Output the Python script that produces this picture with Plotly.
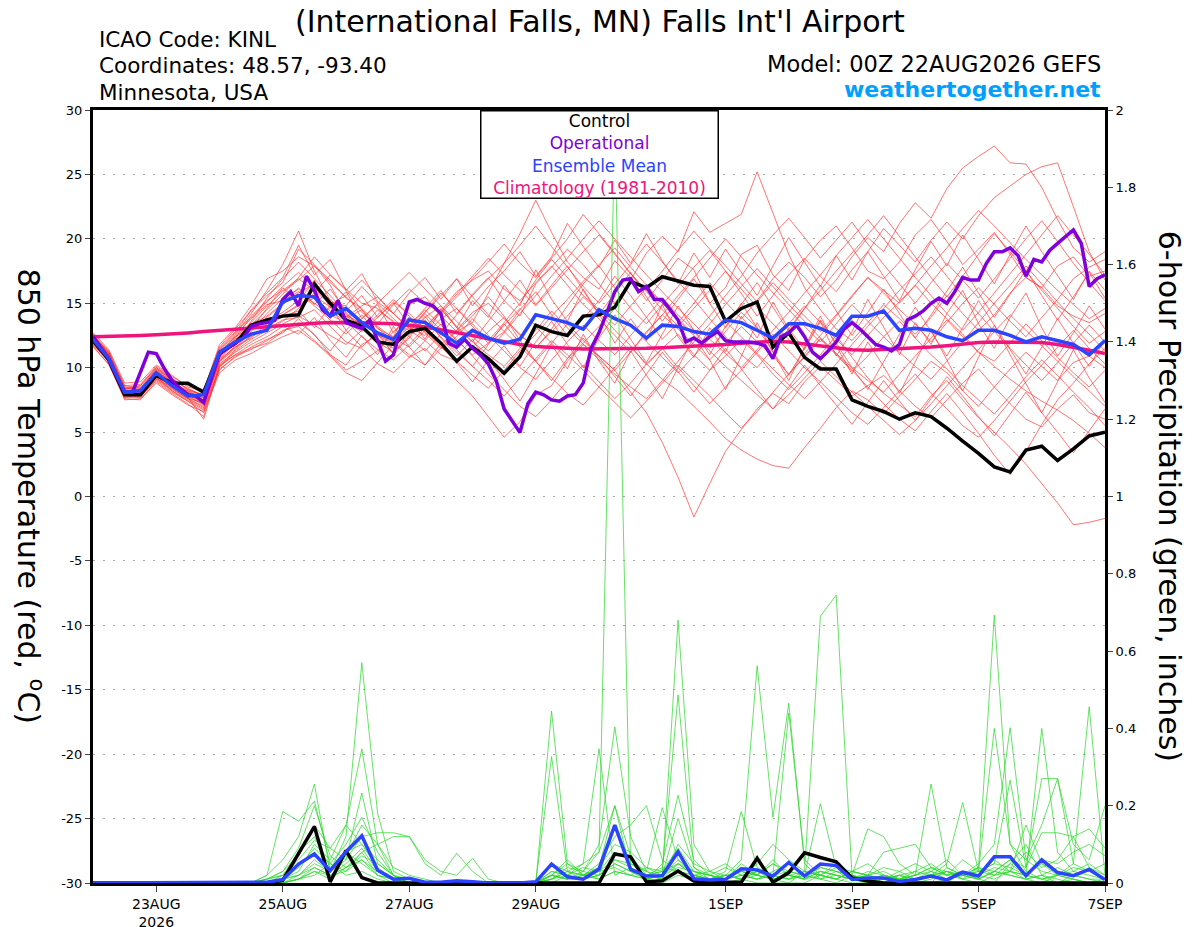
import plotly.graph_objects as go

# time axis in days since 00Z 22AUG2026 (ensemble every 6 h, operational every 3 h)
days_6h = [i / 4 for i in range(65)]
days_3h = [j / 8 for j in range(129)]

tick_days = [1, 3, 5, 7, 10, 12, 14, 16]
tick_text = ['23AUG<br>2026', '25AUG', '27AUG', '29AUG', '1SEP', '3SEP', '5SEP', '7SEP']

# 850 hPa temperature (C)
control_t = [12.1, 10.6, 7.9, 7.9, 9.4, 8.8, 8.8, 8.1, 11.1, 11.9, 13.3, 13.7, 14.0,
             14.1, 16.5, 15.0, 13.7, 13.2, 12.0, 11.8, 12.8, 13.05, 11.9, 10.5, 11.6, 10.7,
             9.56, 10.85, 13.3, 12.8, 12.5, 14.0, 14.1, 14.7, 16.7, 16.2, 17.06, 16.7, 16.4,
             16.3, 13.6, 14.6, 15.1, 11.6, 12.7, 10.8, 9.9, 9.9, 7.5, 7.0, 6.6, 6.0,
             6.5, 6.2, 5.3, 4.3, 3.35, 2.3, 1.9, 3.6, 3.9, 2.8, 3.7, 4.7, 5.0]

mean_t = [12.2, 10.7, 8.1, 8.2, 9.6, 8.6, 7.8, 7.9, 11.2, 12.0, 12.6, 12.9, 15.1,
          15.6, 15.5, 14.0, 14.6, 13.5, 12.7, 12.2, 13.7, 13.5, 12.7, 11.9, 12.9, 12.3,
          11.9, 12.2, 14.1, 13.8, 13.5, 13.0, 14.5, 13.8, 13.3, 12.3, 13.3, 13.2, 12.8,
          12.6, 13.7, 13.5, 12.9, 12.3, 13.4, 13.4, 13.05, 12.5, 14.0, 14.0, 14.4, 12.9,
          13.05, 12.9, 12.4, 12.1, 12.9, 12.9, 12.5, 12.0, 12.4, 12.1, 11.8, 11.0, 12.1]

clim_t = [12.4, 12.42, 12.45, 12.5, 12.55, 12.6, 12.7, 12.8, 12.9, 13.0, 13.1, 13.2, 13.3,
          13.4, 13.45, 13.5, 13.5, 13.5, 13.45, 13.4, 13.3, 13.15, 12.95, 12.75, 12.5, 12.25,
          12.0, 11.8, 11.65, 11.55, 11.5, 11.45, 11.45, 11.45, 11.5, 11.5, 11.55, 11.6, 11.65,
          11.7, 11.8, 11.9, 12.0, 12.05, 12.0, 11.85, 11.7, 11.5, 11.4, 11.35, 11.4, 11.45,
          11.5, 11.6, 11.7, 11.85, 11.95, 12.0, 12.0, 12.0, 11.95, 11.8, 11.6, 11.35, 11.1]

oper_t = [12.4, 11.6, 10.7, 9.4, 8.1, 8.1, 9.7, 11.2, 11.1, 9.95, 9.0, 8.4, 7.9, 7.8, 7.3, 9.3,
          11.1, 11.5, 11.9, 12.3, 13.2, 13.4, 13.5, 13.7, 15.3, 15.9, 14.8, 17.1, 16.0, 14.5, 14.0, 15.2,
          13.5, 13.3, 13.05, 13.7, 12.15, 10.5, 11.0, 13.2, 15.1, 15.3, 15.0, 14.8, 14.2, 11.9, 11.6, 12.2,
          11.5, 11.0, 10.3, 9.0, 6.8, 5.9, 4.96, 7.2, 8.1, 7.9, 7.5, 7.4, 7.8, 7.9, 8.8, 11.5,
          12.7, 14.3, 15.9, 16.8, 16.9, 15.9, 16.3, 15.3, 15.3, 14.5, 13.7, 12.0, 12.3, 11.9, 12.4, 12.8,
          12.1, 12.0, 12.0, 12.0, 11.9, 11.7, 10.7, 12.4, 12.7, 13.3, 12.4, 11.2, 10.7, 11.3, 12.0, 13.0,
          13.5, 13.0, 12.4, 11.8, 11.6, 11.3, 11.8, 13.7, 14.0, 14.4, 15.0, 15.4, 15.0, 15.9, 17.0, 16.8,
          16.8, 18.1, 19.0, 19.0, 19.3, 18.7, 17.1, 18.4, 18.2, 19.1, 19.65, 20.2, 20.7, 19.65, 16.3, 16.9,
          17.2]

temp_members = [
    [12.5, 11.2, 8.3, 8.6, 10.0, 9.2, 8.3, 7.9, 11.3, 12.6, 14.2, 16.0, 18.0,
     20.6, 17.5, 15.2, 13.8, 14.5, 13.0, 12.4, 14.9, 15.5, 14.0, 12.8, 13.5, 15.8,
     18.0, 20.4, 23.0, 20.5, 18.2, 17.0, 16.1, 18.3, 17.0, 15.2, 16.8, 18.5, 17.6,
     15.0, 16.2, 18.8, 19.5, 17.2, 16.0, 18.4, 19.9, 21.0, 19.3, 17.5, 16.9, 18.2,
     20.3, 21.5, 19.8, 18.0, 19.2, 20.5, 18.8, 17.0, 16.2, 17.9, 18.6, 17.1, 17.5],
    [11.9, 10.4, 7.6, 7.5, 8.9, 8.0, 7.2, 6.2, 10.2, 11.0, 11.5, 11.9, 12.8,
     13.5, 12.6, 11.0, 10.2, 11.8, 12.5, 11.9, 10.8, 11.5, 10.2, 9.0, 7.8, 6.2,
     4.6, 5.8, 7.9, 8.6, 10.5, 11.8, 10.9, 9.8, 8.1, 6.5, 4.2, 1.5, -1.6,
     1.0, 3.5, 5.2, 6.8, 8.0, 7.2, 8.9, 10.1, 9.0, 7.8, 8.6, 9.4, 8.2,
     7.0, 6.1, 7.5, 8.8, 9.9, 8.5, 7.2, 6.0, 5.4, 6.8, 7.9, 6.5, 6.0],
    [12.0, 10.9, 8.2, 8.3, 9.8, 8.9, 8.1, 7.4, 10.6, 12.0, 13.5, 14.8, 15.9,
     16.8, 17.9, 16.4, 14.2, 13.1, 12.0, 11.2, 12.3, 13.9, 14.8, 13.1, 12.0, 13.6,
     15.2, 14.0, 16.5, 17.8, 19.2, 18.0, 16.5, 15.0, 16.8, 18.9, 20.2, 19.0, 22.1,
     20.5, 21.2, 21.9, 25.2, 22.0, 18.8, 16.2, 14.5, 13.0, 12.1, 13.5, 14.9, 13.8,
     12.6, 13.9, 15.6, 14.2, 12.9, 14.1, 15.8, 17.0, 16.2, 14.8, 14.0, 13.5, 14.2],
    [12.3, 11.0, 8.1, 7.9, 9.2, 8.4, 7.6, 7.0, 10.5, 11.7, 12.9, 13.9, 14.9,
     15.8, 16.5, 15.0, 13.9, 14.8, 15.5, 14.2, 13.1, 12.5, 13.8, 14.6, 13.2, 11.9,
     12.8, 14.5, 15.9, 14.1, 12.5, 13.8, 15.2, 17.1, 15.6, 13.9, 12.2, 13.5, 15.0,
     16.6, 15.1, 13.8, 15.2, 16.9, 18.2, 17.0, 15.5, 16.8, 18.6, 20.1, 19.0, 21.2,
     22.8, 21.6, 23.9, 25.5, 26.4, 27.2, 25.9, 25.8, 24.0, 21.5, 19.3, 18.2, 19.0],
    [12.6, 11.3, 8.6, 8.4, 9.9, 9.0, 8.0, 7.7, 11.0, 12.2, 13.0, 13.8, 14.1,
     14.9, 15.6, 14.7, 14.0, 13.2, 12.2, 11.5, 12.9, 12.1, 11.0, 10.5, 11.6, 12.8,
     13.9, 12.5, 11.6, 12.8, 14.0, 15.5, 14.3, 12.9, 11.7, 10.2, 11.5, 12.6, 11.0,
     9.8, 10.9, 12.2, 11.0, 9.5, 8.3, 9.6, 11.0, 12.5, 10.8, 9.2, 8.0, 7.1,
     6.2, 7.8, 9.0, 7.5, 6.1, 5.0, 3.8, 2.5, 1.0, -0.5, -2.2, -2.0, -1.7],
    [11.8, 10.6, 7.9, 7.8, 9.3, 8.2, 7.5, 6.8, 10.0, 11.3, 12.2, 12.9, 13.6,
     14.6, 15.8, 17.2, 16.0, 14.5, 13.1, 12.0, 11.0, 10.2, 11.5, 12.9, 14.0, 15.5,
     14.0, 12.1, 10.5, 9.2, 8.0, 7.1, 8.5, 10.0, 11.6, 10.3, 9.1, 8.2, 7.0,
     5.8, 4.5, 3.6, 2.9, 2.4, 2.2, 3.8, 5.3, 6.9, 8.2, 7.5, 6.4, 7.8,
     9.1, 10.5, 9.6, 8.2, 7.0, 8.5, 9.9, 11.2, 10.1, 9.0, 10.4, 10.9, 10.0],
    [12.1, 10.7, 8.4, 8.5, 9.6, 8.8, 8.2, 7.9, 11.5, 12.8, 13.9, 15.1, 16.3,
     17.4, 16.2, 15.1, 14.8, 16.3, 15.0, 13.8, 12.6, 13.1, 14.4, 15.9, 16.8, 17.5,
     16.1, 15.2, 16.6, 17.9, 16.4, 14.9, 13.8, 12.5, 11.2, 12.8, 14.1, 13.0, 11.8,
     10.6, 11.9, 13.2, 12.0, 10.9, 9.5, 10.8, 12.3, 11.1, 9.8, 8.5, 7.2, 6.0,
     5.1, 6.6, 8.0, 6.5, 4.9, 3.2, 1.7, 3.5, 5.6, 7.5, 8.8, 10.3, 11.5],
    [12.4, 11.1, 8.5, 8.2, 9.4, 8.5, 7.9, 7.2, 10.4, 11.5, 12.8, 14.2, 15.4,
     16.1, 15.0, 14.1, 13.5, 12.8, 13.9, 15.1, 14.2, 13.0, 11.8, 12.9, 14.3, 15.0,
     13.8, 12.6, 11.5, 13.0, 14.8, 16.5, 17.9, 16.2, 14.6, 13.4, 14.9, 16.3, 17.8,
     19.1, 17.5, 15.8, 14.0, 15.6, 17.2, 18.5, 17.1, 15.9, 17.6, 19.0, 20.8, 19.5,
     18.2, 19.9, 21.3, 20.0, 21.8, 23.2, 24.1, 25.0, 25.6, 25.9, 22.5, 19.0, 16.8],
    [11.7, 10.2, 7.7, 7.7, 9.0, 8.1, 7.4, 6.5, 9.8, 10.9, 11.4, 12.1, 12.9,
     13.2, 12.1, 11.0, 9.8, 10.5, 11.3, 12.8, 13.9, 12.7, 11.5, 12.4, 13.8, 12.5,
     11.3, 10.0, 9.1, 10.6, 12.0, 13.3, 12.1, 11.0, 12.5, 13.9, 15.4, 14.1, 12.9,
     11.5, 12.8, 14.3, 13.1, 11.9, 13.4, 14.8, 13.5, 12.2, 11.0, 12.5, 13.9, 15.1,
     16.4, 15.0, 13.8, 12.6, 11.2, 10.5, 11.9, 13.4, 12.1, 10.8, 9.6, 8.5, 9.8],
    [12.7, 11.4, 8.8, 8.9, 10.2, 9.4, 8.5, 8.2, 11.8, 13.1, 14.8, 16.9, 17.5,
     18.6, 17.9, 16.8, 15.4, 14.6, 13.4, 14.9, 16.1, 15.0, 14.2, 15.5, 16.9, 18.2,
     19.6, 18.1, 17.0, 18.5, 20.0, 21.9, 20.4, 18.9, 17.3, 16.0, 17.5, 19.1, 20.6,
     19.2, 17.9, 16.5, 15.1, 16.6, 15.3, 14.0, 12.8, 14.1, 15.6, 17.0, 15.8, 14.5,
     13.4, 12.0, 13.5, 15.0, 16.2, 14.9, 13.6, 12.4, 13.9, 15.3, 16.9, 17.8, 18.4],
    [12.0, 10.5, 7.8, 8.0, 9.7, 8.7, 7.7, 6.0, 10.1, 11.4, 12.5, 13.0, 13.7,
     13.9, 14.5, 13.2, 12.0, 11.5, 10.3, 9.6, 10.8, 12.1, 13.4, 12.2, 10.9, 9.5,
     8.3, 7.0, 6.2, 7.5, 9.0, 10.2, 8.9, 7.6, 8.8, 10.3, 11.5, 10.0, 8.6,
     7.2, 8.5, 9.8, 11.2, 12.6, 11.3, 10.0, 8.9, 7.7, 6.5, 5.6, 6.9, 8.2,
     9.5, 8.0, 6.8, 5.5, 4.6, 5.9, 7.4, 8.9, 10.2, 11.6, 12.9, 11.5, 10.3],
    [12.3, 10.9, 8.0, 7.8, 9.1, 8.3, 7.6, 7.3, 10.7, 12.1, 13.3, 14.5, 15.7,
     17.0, 18.6, 17.2, 16.1, 15.0, 14.6, 13.5, 12.9, 14.3, 15.8, 14.6, 13.4, 12.1,
     13.5, 15.0, 16.8, 18.4, 17.0, 15.6, 14.5, 13.3, 14.8, 16.2, 15.0, 13.8, 12.6,
     14.0, 15.6, 17.1, 18.9, 20.3, 21.6, 20.1, 18.5, 19.9, 21.3, 19.6, 18.0, 16.5,
     15.0, 16.6, 18.1, 16.8, 15.4, 16.9, 18.5, 20.0, 21.4, 19.8, 18.1, 16.6, 15.2],
    [11.6, 10.3, 7.5, 7.6, 8.8, 7.9, 7.1, 6.6, 9.6, 10.6, 11.1, 11.8, 12.4,
     12.9, 12.0, 10.9, 9.6, 9.0, 10.4, 11.8, 12.9, 13.7, 12.4, 11.2, 10.1, 9.0,
     7.8, 9.2, 10.7, 12.1, 11.0, 9.8, 8.5, 7.3, 6.1, 7.4, 8.8, 10.2, 9.0,
     7.8, 6.5, 5.3, 6.6, 8.1, 9.5, 10.9, 12.2, 11.0, 9.7, 10.9, 12.4, 13.6,
     12.3, 11.0, 9.9, 8.6, 7.5, 6.4, 7.8, 9.3, 10.6, 9.4, 8.1, 6.9, 5.5],
    [12.2, 10.8, 8.3, 8.1, 9.5, 8.7, 7.8, 7.5, 10.9, 12.0, 13.6, 15.4, 16.9,
     18.2, 16.9, 15.6, 14.3, 13.0, 14.5, 13.6, 12.4, 11.3, 12.6, 14.1, 15.6, 16.9,
     18.1, 19.5, 21.0, 19.4, 17.8, 16.3, 15.0, 16.5, 18.0, 19.6, 18.2, 16.7, 15.3,
     13.8, 12.4, 11.0, 10.0, 11.5, 13.0, 14.6, 16.0, 17.5, 18.9, 20.3, 21.8, 20.2,
     18.6, 17.0, 15.5, 17.1, 18.8, 20.4, 19.0, 17.5, 16.0, 14.6, 13.2, 11.9, 12.8],
    [12.5, 11.0, 8.2, 8.4, 9.9, 9.1, 8.4, 7.8, 11.2, 12.4, 13.1, 13.6, 14.3,
     15.2, 16.0, 15.3, 14.1, 13.4, 12.6, 12.0, 13.2, 14.5, 13.3, 12.1, 11.0, 11.9,
     13.3, 14.6, 13.2, 11.9, 10.7, 11.9, 13.2, 14.6, 13.3, 12.0, 10.8, 9.6, 10.9,
     12.3, 13.6, 12.4, 11.1, 9.9, 8.7, 7.6, 8.9, 10.3, 11.8, 13.2, 14.6, 16.0,
     17.3, 18.6, 17.1, 15.6, 14.2, 12.8, 11.5, 10.2, 9.0, 10.4, 11.9, 13.3, 12.0],
    [11.9, 10.6, 8.1, 8.2, 9.3, 8.5, 7.8, 7.1, 10.3, 11.2, 12.0, 12.7, 13.4,
     14.0, 13.3, 12.5, 11.8, 12.9, 14.1, 15.3, 14.0, 12.8, 11.6, 10.5, 9.4, 8.4,
     9.8, 11.3, 12.6, 14.0, 15.3, 16.7, 18.0, 19.3, 17.8, 16.4, 15.0, 13.7, 12.5,
     11.3, 10.1, 9.0, 7.9, 6.8, 7.9, 9.2, 10.5, 9.3, 8.1, 7.0, 5.9, 4.8,
     5.9, 7.2, 8.6, 10.0, 11.4, 12.8, 14.1, 12.9, 11.7, 10.5, 9.3, 8.2, 7.0],
    [12.4, 11.2, 8.6, 8.7, 10.1, 9.3, 8.6, 8.3, 11.6, 13.0, 14.4, 15.6, 16.6,
     19.2, 18.0, 16.6, 15.5, 14.3, 13.2, 12.3, 11.6, 12.9, 14.3, 15.7, 17.1, 18.5,
     17.2, 16.0, 14.8, 16.2, 17.6, 19.0, 20.3, 18.8, 17.3, 15.9, 14.5, 13.2, 14.6,
     16.0, 17.5, 16.1, 14.7, 13.4, 12.2, 11.1, 12.5, 14.0, 15.5, 17.0, 16.0, 15.0,
     16.4, 17.9, 19.3, 20.8, 22.2, 21.0, 19.7, 18.4, 17.2, 16.0, 14.9, 13.8, 14.6],
    [12.0, 10.7, 7.9, 7.9, 9.4, 8.6, 7.9, 7.4, 10.6, 11.6, 12.3, 13.4, 14.1,
     14.8, 15.4, 14.4, 13.6, 12.4, 11.4, 10.6, 11.8, 13.1, 14.5, 13.2, 12.0, 11.0,
     10.1, 11.5, 12.9, 14.4, 13.1, 11.8, 10.6, 9.5, 8.5, 7.6, 9.0, 10.5, 12.0,
     13.4, 14.9, 16.3, 17.7, 16.3, 14.9, 13.6, 12.3, 11.1, 10.0, 9.0, 8.1, 9.5,
     10.9, 12.3, 13.7, 12.4, 11.2, 10.1, 9.1, 8.2, 7.4, 6.7, 5.9, 4.9, 3.8],
    [12.6, 11.1, 8.4, 8.3, 9.7, 8.9, 8.2, 7.6, 10.8, 12.3, 14.0, 15.2, 16.0,
     16.9, 16.0, 14.9, 15.6, 16.8, 15.5, 14.2, 13.0, 14.3, 15.6, 16.9, 15.5, 14.1,
     12.8, 11.6, 10.5, 11.9, 13.4, 12.1, 10.9, 9.8, 11.2, 12.7, 14.1, 15.6, 17.0,
     18.5, 20.0, 18.6, 17.2, 15.8, 14.5, 13.2, 12.0, 13.4, 14.9, 13.6, 12.4, 11.2,
     10.1, 9.1, 10.5, 12.0, 13.5, 15.0, 16.4, 17.9, 16.5, 15.1, 13.8, 12.6, 11.3],
    [12.1, 10.9, 8.2, 8.0, 9.6, 8.8, 8.1, 7.7, 11.1, 12.5, 13.8, 14.9, 15.2,
     15.9, 14.8, 13.7, 12.6, 13.8, 15.0, 16.2, 17.4, 16.1, 14.8, 13.6, 12.4, 11.3,
     12.7, 14.2, 15.6, 17.1, 18.5, 20.0, 21.4, 20.0, 18.6, 17.2, 15.9, 14.6, 13.4,
     12.2, 11.1, 10.0, 11.4, 12.9, 14.3, 15.8, 17.2, 18.7, 20.1, 21.5, 20.0, 18.5,
     17.0, 15.6, 14.2, 12.9, 14.3, 15.8, 17.3, 18.8, 20.3, 21.8, 20.3, 18.8, 17.2],
    [12.2, 10.9, 8.1, 8.2, 9.8, 8.9, 8.0, 7.3, 10.8, 12.2, 13.0, 14.6, 16.2,
     15.1, 16.8, 14.6, 15.9, 13.8, 14.9, 12.7, 13.9, 12.2, 14.6, 13.1, 15.2, 13.9,
     16.4, 14.8, 17.6, 15.3, 13.6, 16.1, 14.2, 11.9, 13.8, 12.1, 14.9, 12.4, 10.8,
     13.1, 11.2, 14.0, 12.3, 15.1, 13.0, 11.4, 13.6, 10.9, 12.8, 15.3, 13.2, 11.0,
     13.5, 11.8, 14.2, 16.0, 13.4, 11.5, 13.9, 15.8, 13.1, 10.9, 12.7, 14.8, 13.0],
    [11.8, 10.5, 7.7, 7.8, 9.2, 8.4, 7.6, 6.9, 10.1, 11.0, 11.8, 12.4, 13.2,
     12.6, 13.9, 12.1, 10.8, 12.5, 11.0, 13.2, 11.6, 10.2, 11.9, 10.4, 8.9, 10.6,
     9.1, 7.4, 9.5, 11.8, 9.9, 12.6, 10.5, 8.8, 11.3, 9.4, 7.6, 10.0, 12.4,
     10.6, 8.3, 10.9, 13.5, 11.2, 9.0, 11.6, 14.0, 11.7, 9.5, 12.0, 10.1, 8.0,
     10.4, 12.9, 10.6, 8.2, 10.8, 13.3, 11.0, 8.7, 6.5, 8.9, 11.4, 9.2, 7.3],
    [12.5, 11.1, 8.4, 8.6, 10.0, 9.1, 8.3, 7.8, 11.4, 12.7, 14.5, 15.8, 17.0,
     19.5, 17.2, 18.4, 16.0, 17.3, 15.1, 14.2, 15.8, 17.0, 15.3, 16.9, 14.8, 16.3,
     17.5, 19.0, 17.1, 18.6, 21.2, 19.4, 17.8, 19.9, 18.1, 20.4, 18.3, 16.5, 18.9,
     17.0, 19.2, 17.4, 15.6, 17.9, 20.1, 18.2, 16.3, 18.7, 16.8, 19.0, 17.1, 15.2,
     17.6, 19.8, 17.9, 20.3, 18.4, 16.5, 18.8, 21.0, 19.0, 17.1, 15.3, 17.5, 16.0],
    [12.0, 10.8, 8.0, 7.9, 9.4, 8.5, 7.7, 7.2, 10.5, 11.6, 12.4, 13.1, 14.0,
     14.4, 13.1, 14.8, 12.9, 11.6, 12.8, 11.0, 12.5, 14.0, 12.3, 10.9, 12.2, 10.3,
     11.7, 10.1, 12.0, 13.6, 11.8, 10.0, 12.3, 14.1, 12.2, 10.4, 12.6, 14.8, 12.9,
     11.0, 13.2, 15.0, 13.1, 11.2, 9.4, 11.5, 13.7, 11.9, 10.0, 8.3, 10.5, 12.6,
     14.7, 12.8, 10.9, 13.1, 15.2, 13.3, 11.4, 9.5, 11.6, 13.8, 11.9, 10.1, 12.2],
    [12.3, 11.0, 8.2, 8.1, 9.6, 8.7, 8.0, 7.5, 11.0, 12.4, 13.4, 14.0, 15.0,
     16.2, 14.9, 16.1, 14.4, 15.6, 13.9, 15.0, 13.3, 14.6, 16.0, 14.2, 15.7, 17.0,
     15.2, 16.8, 14.9, 16.4, 17.9, 16.0, 14.1, 15.8, 17.4, 15.5, 13.6, 15.3, 16.9,
     15.0, 13.1, 14.9, 16.6, 14.7, 12.8, 14.6, 16.4, 14.4, 12.5, 14.3, 16.1, 14.2,
     12.3, 14.1, 15.9, 17.8, 15.8, 13.9, 15.7, 17.6, 15.6, 13.7, 15.5, 17.4, 15.4],
    [11.9, 10.6, 7.8, 7.7, 9.1, 8.2, 7.4, 6.7, 9.9, 10.8, 11.6, 12.2, 12.7,
     13.8, 12.5, 11.3, 12.9, 14.1, 12.6, 11.1, 12.8, 14.2, 12.9, 11.4, 10.1, 11.8,
     13.4, 11.9, 10.5, 9.0, 10.7, 12.3, 10.8, 9.3, 7.8, 9.5, 11.2, 9.7, 8.1,
     9.8, 11.5, 9.9, 8.3, 6.8, 8.5, 10.2, 8.6, 7.1, 5.6, 7.3, 9.0, 7.4,
     5.9, 7.6, 9.3, 7.8, 6.2, 4.7, 6.4, 8.1, 6.5, 5.0, 3.4, 5.1, 6.8],
]

# 6-hour precipitation (inches)
control_p = [0, 0, 0, 0, 0, 0, 0, 0, 0, 0, 0, 0, 0.007,
             0.077, 0.146, 0.003, 0.084, 0.014, 0, 0, 0, 0, 0, 0, 0, 0,
             0, 0, 0, 0, 0, 0, 0, 0.075, 0.068, 0.003, 0.006, 0.031, 0.005,
             0.002, 0.001, 0.002, 0.064, 0.002, 0.027, 0.078, 0.066, 0.055, 0.013, 0.005, 0, 0,
             0, 0, 0, 0, 0, 0, 0, 0, 0, 0, 0, 0, 0]

mean_p = [0, 0, 0, 0, 0, 0, 0, 0, 0, 0, 0, 0.002, 0.009,
          0.049, 0.075, 0.032, 0.081, 0.122, 0.033, 0.010, 0.012, 0.002, 0.002, 0.006, 0.003, 0,
          0, 0, 0.003, 0.049, 0.016, 0.010, 0.036, 0.150, 0.035, 0.018, 0.019, 0.081, 0.011,
          0.008, 0.0095, 0.037, 0.034, 0.018, 0.053, 0.018, 0.049, 0.045, 0.009, 0.013, 0.013, 0.004,
          0.009, 0.018, 0.008, 0.028, 0.018, 0.068, 0.068, 0.019, 0.060, 0.027, 0.019, 0.035, 0.009]

precip_members = [
    [0, 0, 0, 0, 0, 0, 0, 0, 0, 0, 0, 0.01, 0.02,
     0.05, 0.08, 0.03, 0.12, 0.57, 0.18, 0.03, 0.01, 0, 0, 0, 0, 0,
     0, 0, 0, 0.02, 0.05, 0.03, 0.08, 1.95, 0.04, 0.01, 0, 0.02, 0.01,
     0, 0, 0.01, 0, 0, 0, 0, 0.02, 0.05, 0.01, 0, 0, 0.02,
     0, 0, 0, 0.03, 0.01, 0, 0.05, 0.1, 0.02, 0, 0.01, 0, 0],
    [0, 0, 0, 0, 0, 0, 0, 0, 0, 0, 0, 0, 0.01,
     0.03, 0.1, 0.06, 0.15, 0.347, 0.1, 0.02, 0, 0, 0, 0, 0, 0,
     0, 0, 0, 0.445, 0.05, 0.02, 0.01, 0.03, 0.02, 0.04, 0.02, 0.68, 0.1,
     0.03, 0.01, 0.05, 0.02, 0.01, 0, 0.03, 0.02, 0.01, 0, 0, 0.02, 0.01,
     0, 0, 0.04, 0.02, 0.01, 0.03, 0.06, 0.02, 0.01, 0, 0.02, 0.04, 0.01],
    [0, 0, 0, 0, 0, 0, 0, 0, 0, 0, 0, 0.02, 0.06,
     0.12, 0.256, 0.03, 0.08, 0.1, 0.06, 0.02, 0.01, 0, 0, 0, 0, 0,
     0, 0, 0, 0.02, 0.01, 0.03, 0.1, 0.404, 0.12, 0.03, 0.01, 0.05, 0.03,
     0.01, 0.02, 0.06, 0.562, 0.17, 0.465, 0.05, 0.01, 0, 0.02, 0.01, 0, 0,
     0, 0.01, 0.03, 0.01, 0, 0.02, 0.03, 0.01, 0, 0.02, 0.01, 0, 0.01],
    [0, 0, 0, 0, 0, 0, 0, 0, 0, 0, 0, 0.02, 0.185,
     0.16, 0.212, 0.05, 0.03, 0.08, 0.02, 0.01, 0, 0, 0, 0, 0, 0,
     0, 0, 0, 0.01, 0.03, 0.05, 0.347, 0.02, 0.04, 0.02, 0.01, 0.03, 0.01,
     0, 0.01, 0.03, 0.02, 0.05, 0.02, 0.03, 0.69, 0.745, 0.02, 0, 0.01, 0,
     0, 0, 0.01, 0.02, 0.01, 0.03, 0.02, 0.01, 0.02, 0.01, 0, 0, 0],
    [0, 0, 0, 0, 0, 0, 0, 0, 0, 0, 0, 0.01, 0.03,
     0.07, 0.15, 0.09, 0.06, 0.233, 0.05, 0.02, 0, 0, 0, 0, 0, 0,
     0, 0, 0, 0.327, 0.03, 0.01, 0.02, 0.06, 0.04, 0.02, 0.03, 0.487, 0.04,
     0.01, 0.02, 0.01, 0.03, 0.02, 0.01, 0.02, 0.04, 0.03, 0.01, 0, 0.01, 0.02,
     0.01, 0.03, 0.06, 0.02, 0.04, 0.693, 0.1, 0.03, 0.01, 0.02, 0.01, 0, 0],
    [0, 0, 0, 0, 0, 0, 0, 0, 0, 0, 0, 0, 0.01,
     0.02, 0.05, 0.03, 0.06, 0.12, 0.13, 0.13, 0.12, 0.05, 0.02, 0.077, 0.03, 0,
     0, 0, 0, 0.01, 0.02, 0.04, 0.03, 0.06, 0.05, 0.02, 0.03, 0.05, 0.02,
     0.01, 0.03, 0.185, 0.04, 0.02, 0.01, 0.03, 0.02, 0.01, 0.03, 0.05, 0.02, 0.01,
     0.02, 0.04, 0.03, 0.02, 0.05, 0.1, 0.402, 0.06, 0.03, 0.02, 0.05, 0.456, 0.02],
    [0, 0, 0, 0, 0, 0, 0, 0, 0, 0, 0, 0, 0,
     0.01, 0.04, 0.02, 0.05, 0.09, 0.03, 0.01, 0, 0, 0, 0, 0, 0,
     0, 0, 0, 0.02, 0.06, 0.02, 0.01, 0.03, 0.02, 0.01, 0.05, 0.227, 0.06,
     0.02, 0.01, 0.03, 0.02, 0.01, 0.02, 0.01, 0.03, 0.02, 0.01, 0.02, 0.04, 0.03,
     0.01, 0.02, 0.05, 0.208, 0.03, 0.02, 0.05, 0.02, 0.40, 0.08, 0.03, 0.02, 0.01],
    [0, 0, 0, 0, 0, 0, 0, 0, 0, 0, 0, 0, 0.01,
     0.04, 0.09, 0.05, 0.1, 0.17, 0.08, 0.02, 0, 0, 0, 0, 0, 0,
     0, 0, 0, 0.03, 0.02, 0.01, 0.02, 0.15, 0.05, 0.03, 0.02, 0.167, 0.04,
     0.02, 0.01, 0.02, 0.01, 0.03, 0.05, 0.02, 0.01, 0.02, 0.01, 0.03, 0.02, 0.01,
     0.02, 0.256, 0.04, 0.02, 0.03, 0.40, 0.1, 0.06, 0.15, 0.27, 0.05, 0.03, 0.01],
    [0, 0, 0, 0, 0, 0, 0, 0, 0, 0, 0, 0.01, 0.02,
     0.08, 0.12, 0.04, 0.07, 0.15, 0.1, 0.04, 0.02, 0.01, 0, 0, 0, 0,
     0, 0, 0, 0.01, 0.03, 0.02, 0.04, 0.2, 0.03, 0.01, 0.02, 0.06, 0.03,
     0.02, 0.04, 0.02, 0.01, 0.02, 0.03, 0.02, 0.01, 0.03, 0.02, 0.01, 0.02, 0.01,
     0.03, 0.05, 0.02, 0.06, 0.03, 0.05, 0.266, 0.04, 0.27, 0.27, 0.1, 0.06, 0.2],
    [0, 0, 0, 0, 0, 0, 0, 0, 0, 0, 0, 0, 0,
     0.01, 0.03, 0.01, 0.04, 0.08, 0.1, 0.12, 0.12, 0.06, 0.03, 0.02, 0.064, 0.01,
     0, 0, 0, 0.02, 0.01, 0.02, 0.03, 0.08, 0.06, 0.03, 0.195, 0.06, 0.02,
     0.03, 0.05, 0.02, 0.03, 0.01, 0.02, 0.01, 0.04, 0.03, 0.02, 0.14, 0.12, 0.05,
     0.02, 0.03, 0.01, 0.02, 0.01, 0.03, 0.02, 0.01, 0.02, 0.04, 0.02, 0.01, 0],
    [0, 0, 0, 0, 0, 0, 0, 0, 0, 0, 0, 0.01, 0.03,
     0.09, 0.2, 0.07, 0.04, 0.06, 0.03, 0.01, 0, 0, 0, 0, 0, 0,
     0, 0, 0, 0.03, 0.02, 0.05, 0.08, 0.2, 0.07, 0.02, 0.04, 0.03, 0.02,
     0.01, 0.02, 0.03, 0.02, 0.05, 0.03, 0.02, 0.205, 0.04, 0.02, 0.01, 0.02, 0.01,
     0.01, 0.02, 0.03, 0.01, 0.02, 0.04, 0.03, 0.02, 0.01, 0.02, 0.03, 0.05, 0.02],
    [0, 0, 0, 0, 0, 0, 0, 0, 0, 0, 0, 0, 0.02,
     0.06, 0.11, 0.09, 0.15, 0.1, 0.04, 0.01, 0, 0, 0, 0, 0, 0,
     0, 0, 0, 0.02, 0.01, 0.02, 0.05, 0.12, 0.15, 0.2, 0.06, 0.03, 0.02,
     0.01, 0.02, 0.01, 0.03, 0.02, 0.44, 0.06, 0.02, 0.01, 0.03, 0.02, 0.01, 0.02,
     0.03, 0.02, 0.01, 0.02, 0.03, 0.05, 0.04, 0.02, 0.06, 0.05, 0.08, 0.1, 0.07],
    [0, 0, 0, 0, 0, 0, 0, 0, 0, 0, 0, 0, 0.01,
     0.02, 0.06, 0.03, 0.08, 0.05, 0.02, 0.01, 0, 0, 0, 0, 0, 0,
     0, 0, 0, 0.05, 0.03, 0.02, 0.04, 0.1, 0.08, 0.04, 0.03, 0.09, 0.03,
     0.02, 0.01, 0.04, 0.02, 0.06, 0.02, 0.01, 0.03, 0.02, 0.01, 0.02, 0.03, 0.01,
     0.02, 0.04, 0.02, 0.03, 0.02, 0.06, 0.03, 0.15, 0.05, 0.02, 0.04, 0.03, 0.05],
    [0, 0, 0, 0, 0, 0, 0, 0, 0, 0, 0, 0, 0,
     0.01, 0.02, 0.05, 0.02, 0.03, 0.01, 0, 0, 0, 0, 0, 0, 0,
     0, 0, 0, 0.01, 0.04, 0.03, 0.02, 0.05, 0.03, 0.02, 0.01, 0.1, 0.05,
     0.03, 0.02, 0.01, 0.05, 0.1, 0.06, 0.03, 0.02, 0.04, 0.03, 0.02, 0.01, 0.03,
     0.05, 0.03, 0.02, 0.01, 0.04, 0.02, 0.03, 0.08, 0.04, 0.06, 0.12, 0.04, 0.02],
    [0, 0, 0, 0, 0, 0, 0, 0, 0, 0, 0, 0, 0,
     0.02, 0.04, 0.02, 0.03, 0.06, 0.02, 0, 0, 0, 0, 0, 0, 0,
     0, 0, 0, 0.02, 0.01, 0.01, 0.03, 0.04, 0.02, 0.01, 0.02, 0.05, 0.02,
     0.01, 0.02, 0.01, 0.02, 0.01, 0.02, 0.01, 0.02, 0.01, 0.03, 0.02, 0.01, 0.02,
     0.01, 0.02, 0.03, 0.02, 0.04, 0.03, 0.06, 0.04, 0.13, 0.13, 0.12, 0.14, 0.09],
    [0, 0, 0, 0, 0, 0, 0, 0, 0, 0, 0, 0, 0,
     0.01, 0.03, 0.02, 0.04, 0.07, 0.05, 0.02, 0, 0, 0, 0, 0, 0,
     0, 0, 0, 0, 0.02, 0.01, 0.02, 0.05, 0.03, 0.01, 0.02, 0.04, 0.03,
     0.02, 0.01, 0.02, 0.01, 0.02, 0.01, 0.02, 0.03, 0.02, 0.01, 0.02, 0.08, 0.09,
     0.1, 0.04, 0.02, 0.03, 0.02, 0.01, 0.03, 0.02, 0.05, 0.03, 0.02, 0.01, 0.01],
]

left_ticks = [-30, -25, -20, -15, -10, -5, 0, 5, 10, 15, 20, 25, 30]

RED = 'rgba(255,50,50,0.85)'
GREEN = 'rgba(40,215,40,0.9)'
BLACK = '#000000'
PURPLE = '#8000dc'
BLUE = '#2a44ff'
PINK = '#f0147d'

fig = go.Figure()

# ensemble members
for m in temp_members:
    fig.add_trace(go.Scatter(x=days_6h, y=m, mode='lines', line=dict(color=RED, width=0.8), hoverinfo='skip'))
for m in precip_members:
    fig.add_trace(go.Scatter(x=days_6h, y=m, mode='lines', line=dict(color=GREEN, width=0.8),
                             yaxis='y2', hoverinfo='skip'))

# precip control + mean
fig.add_trace(go.Scatter(x=days_6h, y=control_p, mode='lines', line=dict(color=BLACK, width=3.5), yaxis='y2'))
fig.add_trace(go.Scatter(x=days_6h, y=mean_p, mode='lines', line=dict(color=BLUE, width=3.5), yaxis='y2'))

# temperature bold lines
fig.add_trace(go.Scatter(x=days_6h, y=clim_t, mode='lines', line=dict(color=PINK, width=3.5)))
fig.add_trace(go.Scatter(x=days_6h, y=control_t, mode='lines', line=dict(color=BLACK, width=3.5)))
fig.add_trace(go.Scatter(x=days_3h, y=oper_t, mode='lines', line=dict(color=PURPLE, width=3.5)))
fig.add_trace(go.Scatter(x=days_6h, y=mean_t, mode='lines', line=dict(color=BLUE, width=3.5)))

FONT = 'DejaVu Sans, Liberation Sans, Arial, sans-serif'

def ann(text, x, y, size, color='black', xanchor='center', **kw):
    fig.add_annotation(text=text, x=x, y=y, xref='paper', yref='paper', showarrow=False,
                       xanchor=xanchor, yanchor='middle', font=dict(family=FONT, size=size, color=color), **kw)

ann("(International Falls, MN) Falls Int'l Airport", 0.501, 1.115, 30)
ann('ICAO Code: KINL', 0.004, 1.0906, 21.5, xanchor='left')
ann('Coordinates: 48.57, -93.40', 0.004, 1.057, 21.5, xanchor='left')
ann('Minnesota, USA', 0.004, 1.023, 21.5, xanchor='left')
ann('Model: 00Z 22AUG2026 GEFS', 0.998, 1.0595, 22.5, xanchor='right')
ann('<b>weathertogether.net</b>', 0.998, 1.026, 22, color='#00a0ff', xanchor='right')

ann('850 hPa Temperature (red, <sup>o</sup>C)', -0.0623, 0.5, 30, textangle=90)
ann('6-hour Precipitation (green, inches)', 1.064, 0.5, 30, textangle=90)

legend_text = ('Control<br>'
               f'<span style="color:{PURPLE}">Operational</span><br>'
               f'<span style="color:{BLUE}">Ensemble Mean</span><br>'
               f'<span style="color:{PINK}">Climatology (1981-2010)</span>')
fig.add_annotation(text=legend_text, x=0.5, y=1.0, xref='paper', yref='paper', showarrow=False,
                   xanchor='center', yanchor='top', align='center', width=236, height=86,
                   bgcolor='white', bordercolor='black', borderwidth=1.5, borderpad=0,
                   font=dict(family=FONT, size=17, color='black'))

# the page adds an 8px body margin, so the figure is drawn 8px smaller and shifted
fig.update_layout(
    width=1192, height=919,
    margin=dict(l=85, r=95, t=102, b=44, autoexpand=False),
    paper_bgcolor='white', plot_bgcolor='white',
    showlegend=False,
    font=dict(family=FONT, color='black'),
    xaxis=dict(range=[0, 16], tickvals=tick_days, ticktext=tick_text, ticks='outside', ticklen=6,
               tickwidth=1, showline=True, linewidth=3, linecolor='black', mirror=True,
               showgrid=False, zeroline=False, tickfont=dict(size=14), automargin=False),
    yaxis=dict(range=[-30, 30], tickvals=left_ticks, ticktext=[str(v) for v in left_ticks],
               ticks='outside', ticklen=5, showline=True, linewidth=3, linecolor='black',
               showgrid=True, gridcolor='#aaaaaa', gridwidth=1, griddash='2px,8px',
               zeroline=False, tickfont=dict(size=13), automargin=False),
    yaxis2=dict(range=[0, 2], dtick=0.2, overlaying='y', side='right', ticks='outside', ticklen=5,
                showline=True, linewidth=3, linecolor='black', showgrid=False, zeroline=False,
                tickfont=dict(size=13), automargin=False),
)

fig.write_html("out.html")
